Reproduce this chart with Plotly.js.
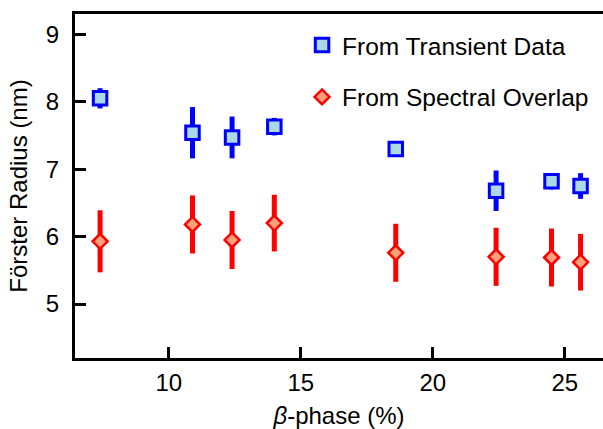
<!DOCTYPE html>
<html>
<head>
<meta charset="utf-8">
<script src="https://cdn.plot.ly/plotly-3.0.1.min.js"></script>
<style>html,body{margin:0;padding:0;background:#fff;}#chart{width:603px;height:429px;}</style>
</head>
<body>
<div id="chart"></div>
<script>
// Data
const betaPhase = [7.4, 10.9, 12.4, 14.0, 18.6, 22.4, 24.5, 25.6];
const transientR = [8.05, 7.54, 7.47, 7.63, 7.30, 6.68, 6.82, 6.75];
const transientErr = [0.15, 0.38, 0.31, 0.13, 0.04, 0.30, 0.12, 0.19];
const spectralR = [5.93, 6.18, 5.95, 6.20, 5.76, 5.70, 5.69, 5.62];
const spectralErr = [0.46, 0.43, 0.43, 0.42, 0.43, 0.43, 0.43, 0.42];
const seriesNames = ["From Transient Data", "From Spectral Overlap"];
const xTicks = [10, 15, 20, 25];
const yTicks = [5, 6, 7, 8, 9];

const FONT = "Liberation Sans, Arial, Helvetica, sans-serif";

const traces = [
  {
    x: betaPhase, y: transientR, name: seriesNames[0], type: "scatter", mode: "markers",
    legendgroup: "a",
    error_y: {type: "data", array: transientErr, visible: true, color: "#0000ff", thickness: 5, width: 0},
    marker: {symbol: "square", size: 13.5, color: "#add8e6", line: {color: "#0000ff", width: 3}}
  },
  {
    x: betaPhase, y: spectralR, name: seriesNames[1], type: "scatter", mode: "markers",
    legendgroup: "b",
    error_y: {type: "data", array: spectralErr, visible: true, color: "#ff0000", thickness: 5, width: 0},
    marker: {symbol: "diamond", size: 11.5, color: "#ffa07a", line: {color: "#ff0000", width: 2.5}}
  }
];

const layout = {
  width: 603, height: 429,
  margin: {l: 75, r: 0, t: 14, b: 71},
  paper_bgcolor: "#fff", plot_bgcolor: "#fff",
  font: {family: FONT, size: 24, color: "#000"},
  showlegend: true,
  legend: {
    x: 0.43, xanchor: "left", y: 0.975, yanchor: "top",
    bgcolor: "rgba(0,0,0,0)", font: {family: FONT, size: 24.5},
    traceorder: "grouped", tracegroupgap: 17
  },
  xaxis: {
    range: [6.45, 26.45], tickvals: xTicks, ticktext: xTicks.map(String),
    ticks: "inside", ticklen: 11, tickwidth: 3, tickcolor: "#000",
    showline: true, linewidth: 3, linecolor: "#000", mirror: true,
    showgrid: false, zeroline: false,
    tickfont: {family: FONT, size: 24},
    ticklabelstandoff: 1,
    title: {text: "<i>β</i>-phase (%)", font: {family: FONT, size: 24}, standoff: 17}
  },
  yaxis: {
    range: [4.2, 9.3], tickvals: yTicks, ticktext: yTicks.map(String),
    ticks: "inside", ticklen: 11, tickwidth: 3, tickcolor: "#000",
    showline: true, linewidth: 3, linecolor: "#000", mirror: false,
    showgrid: false, zeroline: false,
    tickfont: {family: FONT, size: 24},
    ticklabelstandoff: 8,
    title: {text: "Förster Radius (nm)", font: {family: FONT, size: 24}, standoff: 12}
  }
};

Plotly.newPlot("chart", traces, layout, {displayModeBar: false, staticPlot: true});
</script>
</body>
</html>
